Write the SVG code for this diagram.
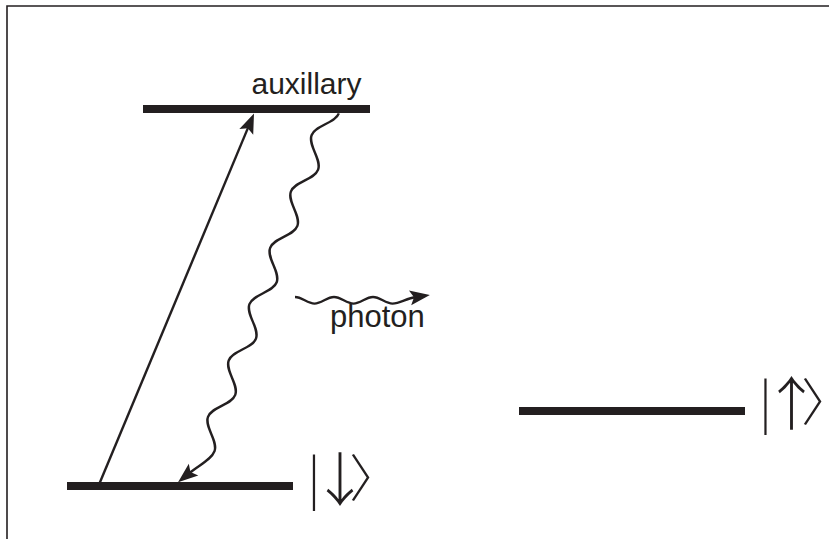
<svg xmlns="http://www.w3.org/2000/svg" width="829" height="539" viewBox="0 0 829 539">
<style>
.frame{fill:none;stroke:#231f20;stroke-width:1.6}
.level{stroke:#231f20;stroke-width:8;stroke-linecap:butt}
.conn{fill:none;stroke:#231f20;stroke-width:2.4}
.lbl{font-family:"Liberation Sans",Arial,sans-serif;fill:#231f20}
.ket{font-family:"Noto Sans CJK JP","DejaVu Sans",sans-serif;font-weight:300;fill:#231f20;font-size:51px;font-feature-settings:"palt" 1}
.arr{font-size:58px}
</style>
<defs>
<marker id="ah" markerUnits="userSpaceOnUse" markerWidth="24" markerHeight="18" refX="6" refY="0" viewBox="-1 -9 23 18" orient="auto" overflow="visible">
<path d="M0,-7.5 L20,0 L0,7.5 L4,0 Z" fill="#231f20"/>
</marker>
</defs>
<rect width="829" height="539" fill="#fff"/>
<path class="frame" d="M7,539 V6 H829"/>
<g id="aux">
<line class="level" x1="143" y1="109" x2="370" y2="109"/>
<text class="lbl" x="251.5" y="93.5" font-size="30">auxillary</text>
</g>
<g id="down">
<line class="level" x1="67" y1="486" x2="293" y2="486"/>
<text class="ket" x="307.5" y="497">|<tspan class="arr" dx="-9.5" dy="4">↓</tspan><tspan dx="-18.5" dy="-4">〉</tspan></text>
</g>
<g id="up">
<line class="level" x1="519" y1="411" x2="745" y2="411"/>
<text class="ket" x="759" y="421">|<tspan class="arr" dx="-9.5" dy="4">↑</tspan><tspan dx="-18" dy="-4">〉</tspan></text>
</g>
<g id="photon">
<path class="conn" d="M295,297 C302.1,297 307.4,303.6 314.5,303.6 S326.9,297 334,297 S346.4,303.6 353.5,303.6 S365.9,297 373,297 S385.4,303.6 392.5,303.6 C400,303.6 406,298.5 416,297" marker-end="url(#ah)"/>
<text class="lbl" x="330" y="326.7" font-size="31">photon</text>
</g>
<g id="connectors">
<line class="conn" x1="98" y1="487" x2="248.6" y2="126.4" marker-end="url(#ah)"/>
<path class="conn" transform="translate(330.4,110.2) rotate(110.2)" d="M0,-9 C10.9,-9 19.1,9 30,9 S49.1,-9 60,-9 S79.1,9 90,9 S109.1,-9 120,-9 S139.1,9 150,9 S169.1,-9 180,-9 S199.1,9 210,9 S229.1,-9 240,-9 S259.1,9 270,9 S289.1,-9 300,-9 S319.1,9 330,9 S349.1,-9 360,-9 C369,-9 378,0.5 389.7,7.4" marker-end="url(#ah)"/>
</g>
</svg>
